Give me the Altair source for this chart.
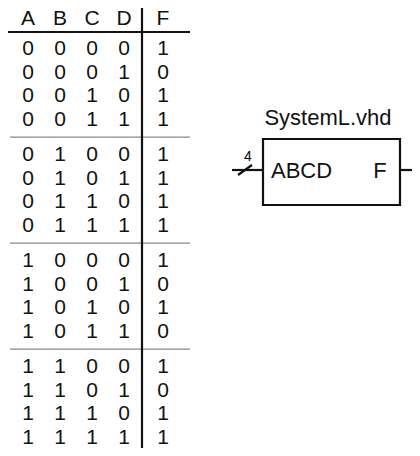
import altair as alt
import pandas as pd

# ---- data ----
headers = ["A", "B", "C", "D", "F"]
a_bits = [0, 0, 0, 0, 0, 0, 0, 0, 1, 1, 1, 1, 1, 1, 1, 1]
b_bits = [0, 0, 0, 0, 1, 1, 1, 1, 0, 0, 0, 0, 1, 1, 1, 1]
c_bits = [0, 0, 1, 1, 0, 0, 1, 1, 0, 0, 1, 1, 0, 0, 1, 1]
d_bits = [0, 1, 0, 1, 0, 1, 0, 1, 0, 1, 0, 1, 0, 1, 0, 1]
f_bits = [1, 0, 1, 1, 1, 1, 1, 1, 1, 0, 1, 0, 1, 0, 1, 1]
block_title = ["SystemL.vhd"]
block_in = ["ABCD"]
block_out = ["F"]
bus_width = ["4"]

# ---- layout (pixel units of the 420x456 window) ----
col_x = [28, 60, 92, 124, 163]
header_y = 19
row0_y = 49
row_step = 23.7
group_step = 106
FONT = "Liberation Sans"

cols = [a_bits, b_bits, c_bits, d_bits, f_bits]
cells = []
for ci, h in enumerate(headers):
    cells.append({"x": col_x[ci], "y": header_y, "t": h})
    for r, v in enumerate(cols[ci]):
        y = row0_y + (r // 4) * group_step + (r % 4) * row_step
        cells.append({"x": col_x[ci], "y": y, "t": str(v)})
cells_df = pd.DataFrame(cells)

# the chart svg sits at (8, 8) inside the window and is 404 x 440
xs = alt.Scale(domain=[8, 412], nice=False, zero=False)
ys = alt.Scale(domain=[8, 448], nice=False, zero=False, reverse=True)

def X(f="x"):
    return alt.X(f"{f}:Q", scale=xs, axis=None)

def Y(f="y"):
    return alt.Y(f"{f}:Q", scale=ys, axis=None)

table_text = alt.Chart(cells_df).mark_text(
    font=FONT, fontSize=21, align="center", baseline="middle", color="#111"
).encode(x=X(), y=Y(), text="t:N")

# thick black rules: header underline, vertical divider, wires, slash
black_lines = pd.DataFrame([
    {"x": 8, "x2": 190, "y": 32, "y2": 32},
    {"x": 142, "x2": 142, "y": 6, "y2": 456},
    {"x": 232, "x2": 263, "y": 170, "y2": 170},
    {"x": 400, "x2": 420, "y": 170, "y2": 170},
    {"x": 238, "x2": 252, "y": 175, "y2": 165},
])
black_rules = alt.Chart(black_lines).mark_rule(color="#111", strokeWidth=2.2).encode(
    x=X(), x2="x2:Q", y=Y(), y2="y2:Q"
)

sep_y = [row0_y + g * group_step + 3 * row_step + 17 for g in range(3)]
sep_lines = pd.DataFrame([{"x": 10, "x2": 190, "y": s, "y2": s} for s in sep_y])
sep_rules = alt.Chart(sep_lines).mark_rule(color="#888", strokeWidth=1.3).encode(
    x=X(), x2="x2:Q", y=Y(), y2="y2:Q"
)

box_df = pd.DataFrame([{"x": 263, "x2": 400, "y": 139, "y2": 205}])
box = alt.Chart(box_df).mark_rect(fill=None, fillOpacity=0, stroke="#111", strokeWidth=2.2).encode(
    x=X(), x2="x2:Q", y=Y(), y2="y2:Q"
)

center_df = pd.DataFrame([
    {"x": 328, "y": 118, "t": block_title[0]},
    {"x": 380, "y": 171, "t": block_out[0]},
])
left_df = pd.DataFrame([{"x": 271, "y": 171, "t": block_in[0]}])
labels_c = alt.Chart(center_df).mark_text(
    font=FONT, fontSize=22, align="center", baseline="middle", color="#111"
).encode(x=X(), y=Y(), text="t:N")
labels_l = alt.Chart(left_df).mark_text(
    font=FONT, fontSize=22, align="left", baseline="middle", color="#111"
).encode(x=X(), y=Y(), text="t:N")

bus_df = pd.DataFrame([{"x": 248, "y": 157, "t": bus_width[0]}])
bus_label = alt.Chart(bus_df).mark_text(
    font=FONT, fontSize=14, align="center", baseline="middle", color="#000"
).encode(x=X(), y=Y(), text="t:N")

chart = alt.layer(
    sep_rules, black_rules, box, table_text, labels_c, labels_l, bus_label
).properties(
    width=404, height=440, padding=0, autosize=alt.AutoSizeParams(type="none")
).configure_view(stroke=None)

chart.save("out.html", embed_options={"renderer": "svg", "actions": False})
